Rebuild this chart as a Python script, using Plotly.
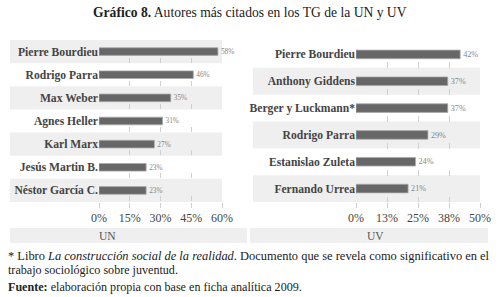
import plotly.graph_objects as go

# ---- data ----
un_authors = ["Pierre Bourdieu", "Rodrigo Parra", "Max Weber", "Agnes Heller",
              "Karl Marx", "Jesús Martin B.", "Néstor García C."]
un_values = [0.58, 0.46, 0.35, 0.31, 0.27, 0.23, 0.23]
un_ticks = [0, 0.15, 0.30, 0.45, 0.60]
un_ticktext = ["0%", "15%", "30%", "45%", "60%"]

uv_authors = ["Pierre Bourdieu", "Anthony Giddens", "Berger y Luckmann*",
              "Rodrigo Parra", "Estanislao Zuleta", "Fernando Urrea"]
uv_values = [0.42, 0.37, 0.37, 0.29, 0.24, 0.21]
uv_ticks = [0, 0.125, 0.25, 0.375, 0.50]
uv_ticktext = ["0%", "13%", "25%", "38%", "50%"]

title_html = "<b>Gráfico 8.</b> Autores más citados en los TG de la UN y UV"
note_line1 = "* Libro <i>La construcción social de la realidad</i>. Documento que se revela como significativo en el"
note_line2 = "trabajo sociológico sobre juventud."
source_line = "<b>Fuente:</b> elaboración propia con base en ficha analítica 2009."

W, H = 500, 297
SERIF = "Liberation Serif"
BAR = "#676767"
BAND = "#efefef"
TXT = "#444444"


def px(x):
    return x / W


def py(y):
    return 1 - y / H


fig = go.Figure()
fig.add_trace(go.Bar(
    y=un_authors, x=un_values, orientation="h", xaxis="x", yaxis="y",
    marker=dict(color=BAR, line=dict(color="#aaaaaa", width=0.8)), width=0.33,
    text=[f"{round(v*100)}%" for v in un_values], textposition="outside",
    textfont=dict(family=SERIF, size=10.5, color="#858585"), cliponaxis=False,
    hoverinfo="skip"))
fig.add_trace(go.Bar(
    y=uv_authors, x=uv_values, orientation="h", xaxis="x2", yaxis="y2",
    marker=dict(color=BAR, line=dict(color="#aaaaaa", width=0.8)), width=0.32,
    text=[f"{round(v*100)}%" for v in uv_values], textposition="outside",
    textfont=dict(family=SERIF, size=10.5, color="#858585"), cliponaxis=False,
    hoverinfo="skip"))

shapes = []
# alternating row bands
n1 = len(un_authors)
for i in range(0, n1, 2):
    shapes.append(dict(type="rect", xref="paper", yref="y domain",
                       x0=px(10), x1=px(222), y0=1 - (i + 1) / n1, y1=1 - i / n1,
                       fillcolor=BAND, line=dict(width=0), layer="below"))
n2 = len(uv_authors)
for i in range(1, n2, 2):
    shapes.append(dict(type="rect", xref="paper", yref="y2 domain",
                       x0=px(253), x1=px(480), y0=1 - (i + 1) / n2, y1=1 - i / n2,
                       fillcolor=BAND, line=dict(width=0), layer="below"))
# footer bands
shapes.append(dict(type="rect", xref="paper", yref="paper", x0=px(10), x1=px(247),
                   y0=py(243), y1=py(228), fillcolor=BAND, line=dict(width=0), layer="below"))
shapes.append(dict(type="rect", xref="paper", yref="paper", x0=px(250), x1=px(488),
                   y0=py(243), y1=py(228), fillcolor=BAND, line=dict(width=0), layer="below"))

annotations = [
    dict(text=title_html, x=0.5, y=py(12), xref="paper", yref="paper", showarrow=False,
         xanchor="center", yanchor="middle", font=dict(family=SERIF, size=13.6, color="#222")),
    dict(text="UN", x=px(107), y=py(235.5), xref="paper", yref="paper", showarrow=False,
         xanchor="center", yanchor="middle", font=dict(family=SERIF, size=11.5, color="#555")),
    dict(text="UV", x=px(375), y=py(235.5), xref="paper", yref="paper", showarrow=False,
         xanchor="center", yanchor="middle", font=dict(family=SERIF, size=11.5, color="#555")),
    dict(text=note_line1, x=px(6), y=py(256), xref="paper", yref="paper", showarrow=False,
         xanchor="left", yanchor="middle", font=dict(family=SERIF, size=12.45, color="#222")),
    dict(text=note_line2, x=px(6), y=py(270), xref="paper", yref="paper", showarrow=False,
         xanchor="left", yanchor="middle", font=dict(family=SERIF, size=12.1, color="#222")),
    dict(text=source_line, x=px(6), y=py(287), xref="paper", yref="paper", showarrow=False,
         xanchor="left", yanchor="middle", font=dict(family=SERIF, size=12.1, color="#222")),
]

xcommon = dict(showline=False, zeroline=False, showgrid=True, gridcolor="#cfcfcf",
               gridwidth=1, ticks="outside", ticklen=5, tickcolor="#cfcfcf",
               tickfont=dict(family=SERIF, size=12, color=TXT), fixedrange=True)
ycommon = dict(showline=False, zeroline=False, showgrid=False, autorange="reversed",
               ticks="", tickfont=dict(family=SERIF, size=11.6, color=TXT, weight="bold"),
               fixedrange=True)

fig.update_layout(
    width=W, height=H, margin=dict(l=0, r=0, t=0, b=0, autoexpand=False),
    paper_bgcolor="white", plot_bgcolor="rgba(0,0,0,0)", showlegend=False,
    xaxis=dict(domain=[px(99), px(222)], range=[0, 0.6], tickvals=un_ticks,
               ticktext=un_ticktext, anchor="y", griddash="0px,18px,5px,0px", **xcommon),
    yaxis=dict(domain=[py(202), py(40)], anchor="x", **ycommon),
    xaxis2=dict(domain=[px(356), px(480)], range=[0, 0.5], tickvals=uv_ticks,
                ticktext=uv_ticktext, anchor="y2", griddash="0px,21px,6px,0px", **xcommon),
    yaxis2=dict(domain=[py(202), py(41)], anchor="x2", **ycommon),
    shapes=shapes, annotations=annotations, bargap=0.68,
)

fig.write_html(
    "out.html",
    config={"displayModeBar": False, "staticPlot": True},
    post_script="document.body.style.margin='0';document.body.style.overflow='hidden';"
                "document.documentElement.style.overflow='hidden';",
)
